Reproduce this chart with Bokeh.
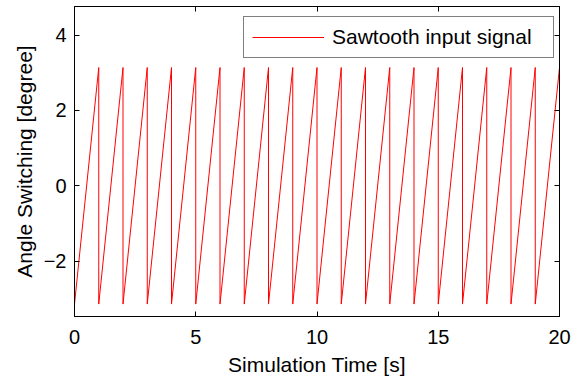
from bokeh.plotting import figure
from bokeh.models import (Range1d, LinearAxis, FixedTicker, Legend, LegendItem,
                          ColumnDataSource)
from bokeh.embed import file_html
from bokeh.resources import INLINE

# ---- data ----
start_time = 0.0                     # s
wrap_times = [1, 2, 3, 4, 5, 6, 7, 8, 9, 10,
              11, 12, 13, 14, 15, 16, 17, 18, 19, 20]   # s, where the angle wraps
angle_low = -3.14                    # bottom of each ramp
angle_high = 3.14                    # top of each ramp
x_ticks = [0, 5, 10, 15, 20]
y_ticks = [-2, 0, 2, 4]
x_limits = (0, 20)
y_limits = (-3.47, 4.76)
series_label = "Sawtooth input signal"
x_label = "Simulation Time [s]"
y_label = "Angle Switching [degree]"

# build the sawtooth path from the wrap points
t = [start_time]
a = [angle_low]
for w in wrap_times:
    t += [w, w]
    a += [angle_high, angle_low]
src = ColumnDataSource(dict(t=t, a=a))

FONT = "Liberation Sans"

p = figure(width=579, height=379,
           x_range=Range1d(*x_limits), y_range=Range1d(*y_limits),
           output_backend="svg", toolbar_location=None,
           min_border_left=74, min_border_right=20,
           min_border_top=6, min_border_bottom=63,
           background_fill_color="white", border_fill_color="white")
p.grid.visible = False
p.outline_line_color = "black"
p.outline_line_width = 1

r = p.line("t", "a", source=src, line_color="#ff0000", line_width=1)

def style(ax, show_labels):
    ax.axis_line_color = "black"
    ax.axis_line_width = 1
    ax.major_tick_in = 5
    ax.major_tick_out = 0
    ax.minor_tick_line_color = None
    ax.major_tick_line_color = "black"
    if show_labels:
        ax.major_label_text_font = FONT
        ax.major_label_text_font_size = "20px"
        ax.major_label_text_color = "black"
        ax.axis_label_text_font = FONT
        ax.axis_label_text_font_size = "21px"
        ax.axis_label_text_font_style = "normal"
        ax.axis_label_text_color = "black"
    else:
        ax.major_label_text_font_size = "1px"
        ax.major_label_text_color = None
        ax.major_label_standoff = 0

xa = p.xaxis[0]
ya = p.yaxis[0]
xa.ticker = FixedTicker(ticks=x_ticks)
ya.ticker = FixedTicker(ticks=y_ticks)
style(xa, True)
style(ya, True)
xa.axis_label = x_label
ya.axis_label = y_label
xa.major_label_standoff = 13
xa.axis_label_standoff = 6
ya.major_label_standoff = 8
ya.axis_label_standoff = 5

top_ax = LinearAxis(ticker=FixedTicker(ticks=x_ticks))
right_ax = LinearAxis(ticker=FixedTicker(ticks=y_ticks))
style(top_ax, False)
style(right_ax, False)
p.add_layout(top_ax, "above")
p.add_layout(right_ax, "right")

legend = Legend(items=[LegendItem(label=series_label, renderers=[r])],
                location=(169, 258))
legend.label_text_font = FONT
legend.label_text_font_size = "21px"
legend.label_text_color = "black"
legend.border_line_color = "black"
legend.border_line_width = 1
legend.background_fill_color = "white"
legend.background_fill_alpha = 1
legend.padding = 8
legend.spacing = 0
legend.margin = 0
legend.glyph_width = 72
legend.glyph_height = 24
legend.label_height = 24
legend.label_width = 213
legend.label_standoff = 8
p.add_layout(legend, "center")

open("out.html", "w").write(file_html(p, INLINE))
